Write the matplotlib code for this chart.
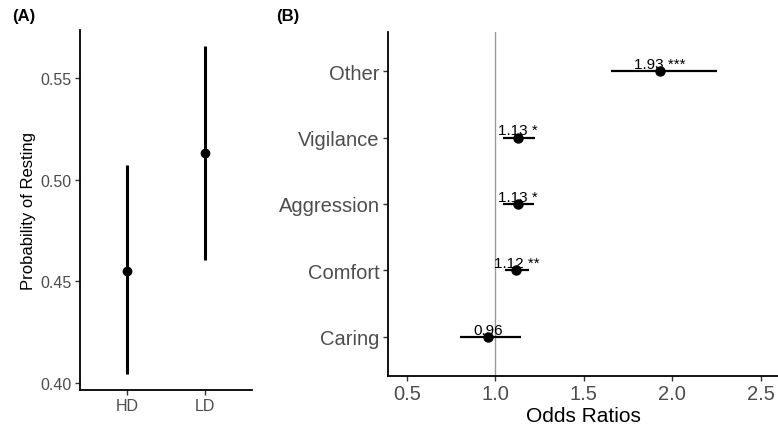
import matplotlib.pyplot as plt

plt.rcParams["font.family"] = ["Liberation Sans", "DejaVu Sans"]

# Panel A: probability of resting by density
groups = ["HD", "LD"]
prob = [0.455, 0.5133]
prob_lo = [0.4045, 0.4605]
prob_hi = [0.507, 0.5656]

# Panel B: odds ratios by behaviour
behaviours = ["Caring", "Comfort", "Aggression", "Vigilance", "Other"]
odds = [0.96, 1.12, 1.13, 1.13, 1.93]
odds_lo = [0.80, 1.056, 1.043, 1.043, 1.655]
odds_hi = [1.145, 1.19, 1.219, 1.226, 2.256]
labels = ["0.96", "1.12 **", "1.13 *", "1.13 *", "1.93 ***"]

tick_grey = "#4D4D4D"

fig = plt.figure(figsize=(7.78, 4.39), dpi=100)

# ---- panel A
ax1 = fig.add_axes([80 / 778, 48 / 439, 172 / 778, 360 / 439])
xa = [1, 2]
ax1.vlines(xa, prob_lo, prob_hi, color="black", lw=2.2)
ax1.plot(xa, prob, "o", color="black", ms=6)
ax1.set_xticks(xa)
ax1.set_xticklabels(groups)
ax1.set_xlim(0.4, 2.6)
ax1.set_ylim(0.3966, 0.5736)
ax1.set_yticks([0.40, 0.45, 0.50, 0.55])
ax1.set_yticklabels(["0.40", "0.45", "0.50", "0.55"])
ax1.set_ylabel("Probability of Resting", fontsize=12, labelpad=3)

# ---- panel B
ax2 = fig.add_axes([388 / 778, 62 / 439, 390 / 778, 344 / 439])
yb = list(range(1, len(behaviours) + 1))
ax2.axvline(1.0, color="#999999", lw=1, zorder=1)
ax2.hlines(yb, odds_lo, odds_hi, color="black", lw=1.6, zorder=2)
ax2.plot(odds, yb, "o", color="black", ms=6.5, zorder=3)
for x, y, t in zip(odds, yb, labels):
    ax2.annotate(t, (x, y), xytext=(0, 2.3), textcoords="offset points",
                 ha="center", va="baseline", fontsize=11, color="black")
ax2.set_yticks(yb)
ax2.set_yticklabels(behaviours)
ax2.set_ylim(0.41, 5.59)
ax2.set_xlim(0.394, 2.598)
ax2.set_xticks([0.5, 1.0, 1.5, 2.0, 2.5])
ax2.set_xticklabels(["0.5", "1.0", "1.5", "2.0", "2.5"])
ax2.set_xlabel("Odds Ratios", fontsize=15, labelpad=2)

for ax, fs in [(ax1, 11.5), (ax2, 14.5)]:
    for s in ["top", "right"]:
        ax.spines[s].set_visible(False)
    for s in ["left", "bottom"]:
        ax.spines[s].set_linewidth(1.3)
        ax.spines[s].set_color("black")
    ax.tick_params(length=3.5, width=1, color="#333333",
                   labelcolor=tick_grey, labelsize=fs, pad=2.5)

fig.text(12 / 778, 1 - 16 / 439, "(A)", fontweight="bold", fontsize=12,
         va="center")
fig.text(276 / 778, 1 - 16 / 439, "(B)", fontweight="bold", fontsize=12,
         va="center")

fig.savefig("out.png", dpi=100)
